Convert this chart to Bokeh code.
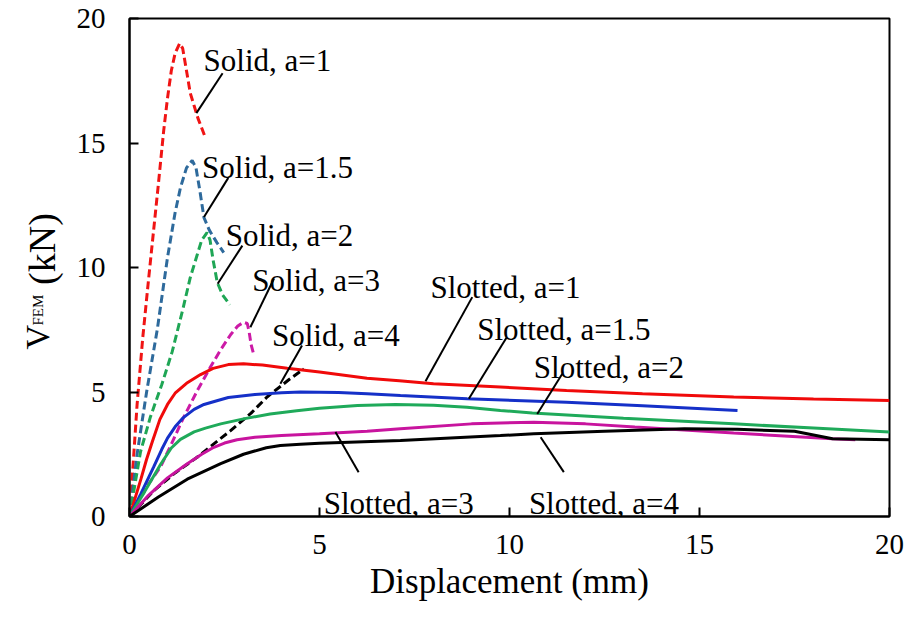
import math
from bokeh.plotting import figure
from bokeh.models import Range1d, FixedTicker, Label
from bokeh.layouts import row
from bokeh.core.properties import value
from bokeh.embed import file_html
from bokeh.resources import INLINE

# ---------------- data ----------------
solid_a1_x = [0, 0.1, 0.2, 0.35, 0.5, 0.75, 0.9, 1.0, 1.1, 1.2, 1.32, 1.4, 1.5, 1.6, 1.8, 2.0]
solid_a1_y = [0, 2.2, 4.5, 7.2, 9.5, 13.2, 15.5, 16.8, 17.9, 18.6, 19.0, 18.8, 17.9, 17.0, 16.0, 15.2]

solid_a15_x = [0, 0.2, 0.45, 0.73, 1.0, 1.2, 1.34, 1.5, 1.65, 1.75, 1.85, 1.96, 2.1, 2.3, 2.48]
solid_a15_y = [0, 2.5, 5.0, 7.5, 10.4, 12.2, 13.2, 14.0, 14.3, 14.0, 13.1, 12.0, 11.5, 11.0, 10.6]

solid_a2_x = [0, 0.29, 0.55, 0.85, 1.12, 1.4, 1.6, 1.78, 1.9, 2.04, 2.12, 2.2, 2.31, 2.45, 2.64]
solid_a2_y = [0, 2.6, 4.0, 5.3, 6.6, 8.3, 9.6, 10.5, 11.1, 11.4, 11.1, 10.3, 9.4, 8.9, 8.5]

solid_a3_x = [0, 0.11, 0.5, 0.82, 1.1, 1.43, 1.8, 2.13, 2.4, 2.66, 2.85, 3.0, 3.1, 3.15, 3.2, 3.27]
solid_a3_y = [0, 0.3, 1.3, 2.0, 2.9, 4.0, 5.1, 6.0, 6.7, 7.3, 7.65, 7.8, 7.75, 7.4, 6.9, 6.5]

solid_a4_x = [0, 0.64, 1.2, 1.78, 2.66, 3.2, 3.62, 4.2, 4.59]
solid_a4_y = [0, 1.04, 1.75, 2.38, 3.45, 4.15, 4.8, 5.5, 5.93]

slot_a1_x = [0, 0.15, 0.3, 0.45, 0.6, 0.8, 1.0, 1.2, 1.5, 1.87, 2.2, 2.6, 3.0, 3.5, 4.15, 5.0,
             6.25, 7.1, 8.0, 9.76, 11.5, 13.5, 15.9, 18, 20]
slot_a1_y = [0, 0.75, 1.5, 2.3, 3.0, 3.9, 4.5, 4.95, 5.35, 5.7, 5.95, 6.1, 6.13, 6.08, 5.95, 5.8,
             5.55, 5.45, 5.33, 5.2, 5.06, 4.93, 4.8, 4.72, 4.66]

slot_a15_x = [0, 0.3, 0.64, 0.85, 1.0, 1.2, 1.4, 1.7, 1.96, 2.3, 2.6, 3.3, 4.0, 4.5, 5.5, 6.25,
              7.13, 8.88, 11.5, 13.5, 16.0]
slot_a15_y = [0, 0.92, 2.0, 2.7, 3.15, 3.6, 3.95, 4.3, 4.5, 4.65, 4.78, 4.9, 4.97, 5.0, 4.98, 4.93,
              4.86, 4.73, 4.59, 4.45, 4.26]

slot_a2_x = [0, 0.4, 0.82, 1.1, 1.34, 1.7, 2.0, 2.4, 3.0, 3.7, 4.4, 5.0, 6.0, 7.0, 8.0, 8.88,
             9.76, 10.6, 13.0, 15.9, 18.0, 20]
slot_a2_y = [0, 1.0, 2.1, 2.75, 3.1, 3.4, 3.55, 3.72, 3.92, 4.12, 4.25, 4.35, 4.46, 4.5, 4.47, 4.39,
             4.26, 4.16, 3.95, 3.72, 3.55, 3.39]

slot_a3_x = [0, 0.5, 1.0, 1.52, 1.9, 2.22, 2.5, 2.83, 3.3, 4.0, 5.0, 6.25, 7.13, 9.0, 10.64,
             12.0, 13.3, 15.9, 18.5, 19.1]
slot_a3_y = [0, 0.85, 1.55, 2.12, 2.5, 2.78, 2.95, 3.08, 3.18, 3.25, 3.32, 3.42, 3.52, 3.72, 3.79,
             3.72, 3.59, 3.35, 3.12, 3.08]

slot_a4_x = [0, 0.76, 1.52, 2.4, 3.0, 3.27, 3.6, 3.97, 4.5, 5.0, 7.13, 9.76, 10.64, 12.5, 14.6,
             16.0, 17.5, 18.5, 20]
slot_a4_y = [0, 0.78, 1.5, 2.12, 2.5, 2.62, 2.76, 2.85, 2.9, 2.94, 3.05, 3.25, 3.32, 3.42, 3.52,
             3.5, 3.42, 3.12, 3.08]

x_ticks = [0, 5, 10, 15, 20]
y_ticks = [0, 5, 10, 15, 20]

labels = ["Solid, a=1", "Solid, a=1.5", "Solid, a=2", "Solid, a=3", "Solid, a=4",
          "Slotted, a=1", "Slotted, a=1.5", "Slotted, a=2", "Slotted, a=3", "Slotted, a=4"]

# annotation layout (text anchor: left / baseline) and leader lines
label_x = [1.95, 1.91, 2.53, 3.23, 3.75, 7.92, 9.15, 10.64, 5.11, 10.51]
label_y = [18.31, 14.03, 11.29, 9.48, 7.27, 9.21, 7.5, 5.97, 0.51, 0.51]
lead_x0 = [2.45, 2.6, 2.97, 3.8, 4.54, 9.02, 9.92, 11.39, 5.42, 10.82]
lead_y0 = [17.8, 13.6, 10.88, 9.55, 6.87, 8.81, 7.18, 5.73, 3.39, 3.18]
lead_x1 = [1.76, 1.96, 2.32, 3.18, 3.97, 7.79, 8.93, 10.73, 6.03, 11.43]
lead_y1 = [16.2, 12.03, 9.35, 7.6, 5.33, 5.43, 4.73, 4.12, 1.78, 1.78]

FONT = "Liberation Serif"
LEFT_W = 64

p = figure(width=906 - LEFT_W, height=621, output_backend="svg", toolbar_location=None,
           x_range=Range1d(0, 20), y_range=Range1d(0, 20),
           min_border_left=129 - LEFT_W, min_border_right=17, min_border_top=18,
           min_border_bottom=105)

p.background_fill_color = "white"
p.border_fill_color = "white"
p.outline_line_color = "black"
p.outline_line_width = 2
p.xgrid.visible = False
p.ygrid.visible = False

for ax, ticks in ((p.xaxis[0], x_ticks), (p.yaxis[0], y_ticks)):
    ax.ticker = FixedTicker(ticks=ticks)
    ax.axis_line_color = "black"
    ax.axis_line_width = 2
    ax.major_tick_in = 9
    ax.major_tick_out = 0
    ax.major_tick_line_width = 2
    ax.minor_tick_in = 0
    ax.minor_tick_out = 0
    ax.major_label_text_font = FONT
    ax.major_label_text_font_size = "29px"
    ax.major_label_text_color = "black"

p.xaxis.major_label_standoff = 18
p.yaxis.major_label_standoff = 24
p.xaxis.axis_label = "Displacement (mm)"
p.xaxis.axis_label_text_font = FONT
p.xaxis.axis_label_text_font_size = "35px"
p.xaxis.axis_label_text_font_style = "normal"
p.xaxis.axis_label_text_color = "black"
p.xaxis.axis_label_standoff = 5

dash = "8 4"
p.line(solid_a1_x, solid_a1_y, line_color="#F01414", line_width=3, line_dash=dash)
p.line(solid_a15_x, solid_a15_y, line_color="#2E6A9C", line_width=3, line_dash=dash)
p.line(solid_a2_x, solid_a2_y, line_color="#1FA655", line_width=3, line_dash=dash)
p.line(solid_a3_x, solid_a3_y, line_color="#CC1AA6", line_width=3, line_dash=dash)
p.line(solid_a4_x, solid_a4_y, line_color="black", line_width=3, line_dash=dash)

p.line(slot_a1_x, slot_a1_y, line_color="#F00A0A", line_width=3)
p.line(slot_a15_x, slot_a15_y, line_color="#1530C8", line_width=3)
p.line(slot_a2_x, slot_a2_y, line_color="#1FAA5A", line_width=3)
p.line(slot_a3_x, slot_a3_y, line_color="#C8149E", line_width=3)
p.line(slot_a4_x, slot_a4_y, line_color="black", line_width=3)

p.segment(x0=lead_x0, y0=lead_y0, x1=lead_x1, y1=lead_y1, line_color="black", line_width=2)

for t, lx, ly in zip(labels, label_x, label_y):
    p.add_layout(Label(x=lx, y=ly, text=t, text_font=FONT, text_font_size="31px",
                       text_color="black", text_align="left", text_baseline="alphabetic"))

# ---- left strip holding the rotated y-axis title (with subscript) ----
# its frame is aligned with the main frame by the row layout, so it shares the kN scale
lf = figure(width=LEFT_W, height=621, output_backend="svg", toolbar_location=None,
            x_range=Range1d(0, LEFT_W), y_range=Range1d(0, 20),
            x_axis_location=None, y_axis_location=None, min_border=0, title=None)
lf.outline_line_color = None
lf.background_fill_color = "white"
lf.border_fill_color = "white"
lf.xgrid.visible = False
lf.ygrid.visible = False

ang = math.pi / 2
lf.text(x=[37], y=[6.71], text=["V"], angle=ang, text_font=value(FONT),
        text_font_size="34px", text_align="left", text_baseline="alphabetic", text_color="black")
lf.text(x=[37], y=[7.67], text=["FEM"], angle=ang, text_font=value(FONT),
        text_font_size="15px", text_align="left", text_baseline="alphabetic", text_color="black")
lf.text(x=[41], y=[9.3], text=["(kN)"], angle=ang, text_font=value(FONT),
        text_font_size="38px", text_align="left", text_baseline="alphabetic", text_color="black")

layout = row(lf, p)
open("out.html", "w").write(file_html(layout, INLINE))
